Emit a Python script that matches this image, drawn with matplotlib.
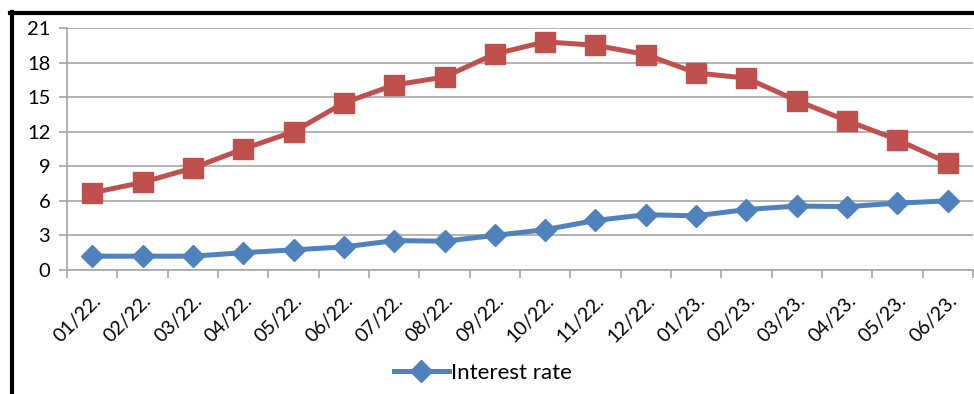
import numpy as np
import matplotlib.pyplot as plt
from matplotlib.lines import Line2D

plt.rcParams['font.family'] = ['Lato', 'DejaVu Sans']

months = ['01/22.', '02/22.', '03/22.', '04/22.', '05/22.', '06/22.', '07/22.', '08/22.', '09/22.',
          '10/22.', '11/22.', '12/22.', '01/23.', '02/23.', '03/23.', '04/23.', '05/23.', '06/23.']
interest_rate = [1.2, 1.2, 1.2, 1.5, 1.75, 2.0, 2.55, 2.5, 3.0, 3.5, 4.3, 4.8, 4.7, 5.25, 5.55, 5.5, 5.8, 6.0]
inflation = [6.7, 7.6, 8.85, 10.5, 12.0, 14.5, 16.05, 16.75, 18.75, 19.8, 19.5, 18.7,
             17.1, 16.65, 14.7, 12.95, 11.3, 9.3]
yticks = [0, 3, 6, 9, 12, 15, 18, 21]

blue = '#4F81BD'
red = '#C0504D'
grid = '#A6A6A6'

fig = plt.figure(figsize=(9.74, 3.94), dpi=100)
ax = fig.add_axes([67/974, 124/394, 906/974, 242/394])

x = np.arange(len(months))
ax.plot(x, inflation, color=red, lw=3.6, marker='s', ms=14, zorder=3)
ax.plot(x, interest_rate, color=blue, lw=3.6, marker='D', ms=11, zorder=3)

ax.set_xlim(-0.5, len(months) - 0.5)
ax.set_ylim(0, 21)
ax.set_yticks(yticks)
ax.set_yticklabels([str(v) for v in yticks], fontsize=14.5)
ax.set_xticks(x)
ax.set_xticklabels(months, rotation=45, ha='right', va='top', rotation_mode='anchor', fontsize=14)
ax.tick_params(axis='x', length=0, pad=16)
ax.tick_params(axis='y', length=6, color=grid, width=1.2, pad=6)
# minor ticks on category boundaries
ax.set_xticks(np.arange(-0.5, len(months), 1), minor=True)
ax.tick_params(axis='x', which='minor', length=6, color=grid, width=1.2)

ax.grid(axis='y', color=grid, lw=1.2)
ax.set_axisbelow(True)
for s in ['top', 'right']:
    ax.spines[s].set_visible(False)
for s in ['left', 'bottom']:
    ax.spines[s].set_color(grid)
    ax.spines[s].set_linewidth(1.2)

handle = Line2D([], [], color=blue, lw=3.6, marker='D', ms=11)
fig.legend([handle], ['Interest rate'], loc='center', bbox_to_anchor=(483/974, 1 - 373/394),
           frameon=False, fontsize=16, handlelength=2.5, handletextpad=0.1)

# outer frame pieces (left and top)
fig.add_artist(Line2D([12/974, 12/974], [0, 1 - 12/394], color='black', lw=3, transform=fig.transFigure))
fig.add_artist(Line2D([10/974, 1], [1 - 13/394, 1 - 13/394], color='black', lw=3, transform=fig.transFigure))

fig.savefig('out.png', dpi=100)
